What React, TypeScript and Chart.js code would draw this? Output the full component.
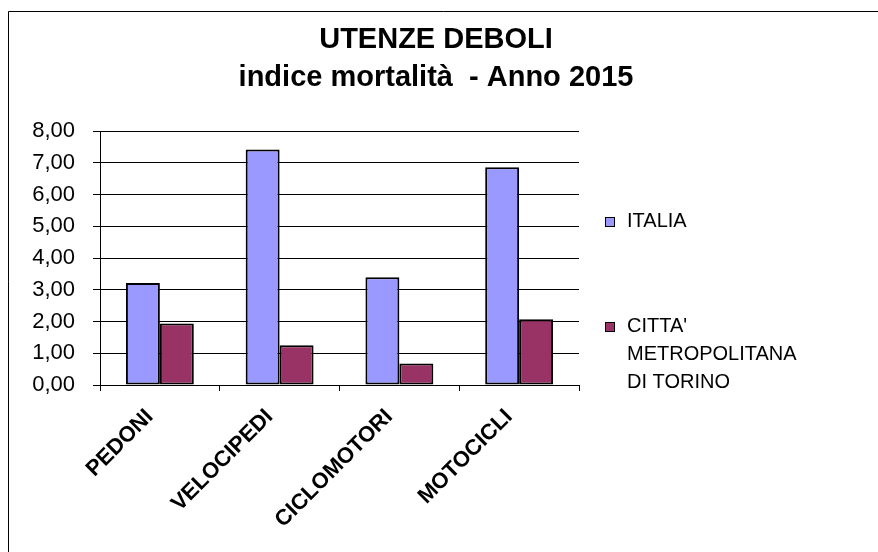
import React, { useEffect, useRef } from 'react';
import { Chart, registerables } from 'chart.js';

Chart.register(...registerables);

// ---- data ----
const categories = ['PEDONI', 'VELOCIPEDI', 'CICLOMOTORI', 'MOTOCICLI'];
const italiaValues = [3.21, 7.42, 3.39, 6.86];
const torinoValues = [1.94, 1.25, 0.68, 2.07];
const seriesNames = ['ITALIA', "CITTA' METROPOLITANA DI TORINO"];
const legendLines = [['ITALIA'], ["CITTA'", 'METROPOLITANA', 'DI TORINO']];
const titleLines = ['UTENZE DEBOLI', 'indice mortalità  - Anno 2015'];
const seriesColors = ['#9999FF', '#993366'];
const yMin = 0;
const yMax = 8;
const yStep = 1;

const FONT = '"Liberation Sans", Arial, sans-serif';

const frameAndLegend = {
  id: 'frameAndLegend',
  beforeDraw(chart: any) {
    const ctx = chart.ctx;
    ctx.save();
    ctx.fillStyle = '#ffffff';
    ctx.fillRect(0, 0, chart.width, chart.height);
    ctx.strokeStyle = '#000000';
    ctx.lineWidth = 1;
    ctx.beginPath();
    ctx.moveTo(8.5, chart.height);
    ctx.lineTo(8.5, 11.5);
    ctx.lineTo(chart.width, 11.5);
    ctx.stroke();
    ctx.restore();
  },
  afterDraw(chart: any) {
    const ctx = chart.ctx;
    const area = chart.chartArea;
    ctx.save();
    ctx.font = `20px ${FONT}`;
    ctx.textBaseline = 'alphabetic';
    ctx.textAlign = 'left';
    const sqX = area.right + 26;
    const itemTops = [area.top + 86, area.top + 191];
    const lineGap = 28;
    legendLines.forEach((lines, i) => {
      const top = itemTops[i];
      ctx.fillStyle = seriesColors[i];
      ctx.fillRect(sqX, top, 10, 10);
      ctx.strokeStyle = '#000';
      ctx.lineWidth = 1;
      ctx.strokeRect(sqX + 0.5, top + 0.5, 9, 9);
      ctx.fillStyle = '#000';
      lines.forEach((t, j) => {
        ctx.fillText(t, sqX + 22, top + 10 + j * lineGap);
      });
    });
    ctx.restore();
  },
};

export default function App() {
  const ref = useRef<HTMLCanvasElement | null>(null);

  useEffect(() => {
    if (!ref.current) return;
    const chart = new Chart(ref.current, {
      type: 'bar',
      data: {
        labels: categories,
        datasets: [
          {
            label: seriesNames[0],
            data: italiaValues,
            backgroundColor: seriesColors[0],
            borderColor: '#000',
            borderWidth: 2,
            borderSkipped: false,
            categoryPercentage: 0.567,
            barPercentage: 1,
          },
          {
            label: seriesNames[1],
            data: torinoValues,
            backgroundColor: seriesColors[1],
            borderColor: '#000',
            borderWidth: 2,
            borderSkipped: false,
            categoryPercentage: 0.567,
            barPercentage: 1,
          },
        ],
      },
      options: {
        responsive: false,
        animation: false,
        layout: { padding: { left: 0, right: 6, top: 0, bottom: 0 } },
        plugins: {
          legend: { display: false },
          tooltip: { enabled: false },
          title: {
            display: true,
            text: titleLines,
            color: '#000',
            font: { family: FONT, size: 29, weight: 'bold', lineHeight: 1.3 },
            padding: { top: 21, bottom: 34.6 },
          },
        },
        scales: {
          x: {
            offset: true,
            grid: {
              display: true,
              offset: true,
              drawOnChartArea: false,
              drawTicks: true,
              tickLength: 6,
              color: '#000',
            },
            border: { display: true, color: '#000', width: 1 },
            ticks: {
              color: '#000',
              font: { family: FONT, size: 22, weight: 'bold' },
              maxRotation: 45,
              minRotation: 45,
              padding: 13,
              labelOffset: -10,
              autoSkip: false,
            },
            afterFit(scale: any) {
              scale.height = 167;
            },
          },
          y: {
            min: yMin,
            max: yMax,
            grid: { color: '#000', tickLength: 7, drawTicks: true },
            border: { display: true, color: '#000', width: 1 },
            ticks: {
              stepSize: yStep,
              color: '#000',
              padding: 18,
              font: { family: FONT, size: 22 },
              callback: (v: any) => Number(v).toFixed(2).replace('.', ','),
            },
            afterFit(scale: any) {
              scale.width = 100;
            },
          },
          legendSpace: {
            type: 'linear',
            position: 'right',
            display: true,
            grid: { display: false },
            border: { display: false },
            ticks: { display: false },
            afterFit(scale: any) {
              scale.width = 293;
            },
          },
        },
      },
      plugins: [frameAndLegend],
    } as any);
    return () => chart.destroy();
  }, []);

  return (
    <div style={{ position: 'fixed', left: 0, top: 0, width: 878, height: 552, background: '#fff' }}>
      <canvas ref={ref} width={878} height={552} style={{ display: 'block' }} />
    </div>
  );
}
